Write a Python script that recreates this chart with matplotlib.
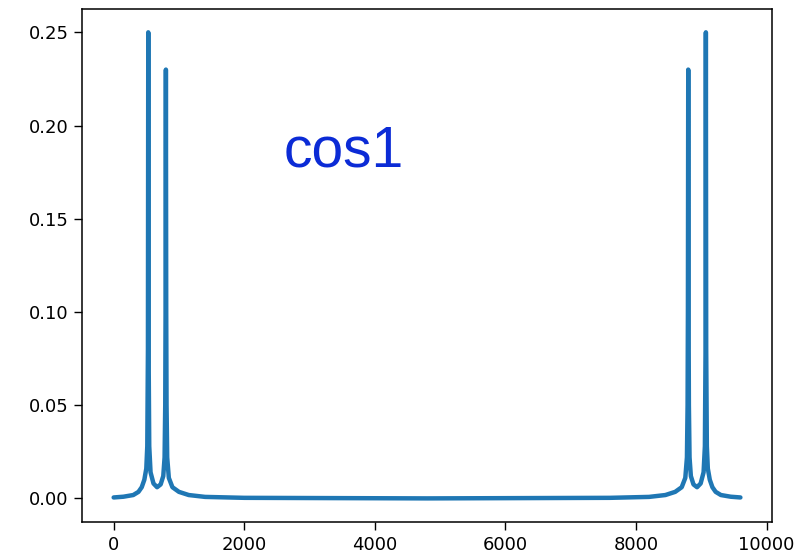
import matplotlib
matplotlib.use("Agg")
import matplotlib.pyplot as plt

# FFT magnitude outline (bin index, |X|)
freq_bins = [0, 150, 300, 380, 430, 470, 500, 515, 525, 530, 535, 545, 565,
             610, 665, 720, 760, 780, 790, 795, 800, 805, 810, 820, 845, 900,
             1000, 1150, 1400, 2000, 4800,
             7600, 8200, 8450, 8600, 8700, 8755, 8780, 8790, 8795, 8800,
             8805, 8810, 8820, 8840, 8880, 8935, 8990, 9035, 9055, 9065,
             9070, 9075, 9085, 9100, 9130, 9170, 9220, 9300, 9450, 9599]
magnitude = [0.0005, 0.0009, 0.0018, 0.0035, 0.006, 0.010, 0.016, 0.028,
             0.08, 0.25, 0.08, 0.028, 0.014, 0.008, 0.006, 0.0075, 0.012,
             0.022, 0.05, 0.10, 0.23, 0.10, 0.05, 0.022, 0.011, 0.006, 0.0035,
             0.0018, 0.0008, 0.0003, 0.0,
             0.0003, 0.0008, 0.0018, 0.0035, 0.006, 0.011, 0.022, 0.05, 0.10,
             0.23, 0.10, 0.05, 0.022, 0.012, 0.0075, 0.006, 0.008, 0.014,
             0.028, 0.08, 0.25, 0.08, 0.028, 0.016, 0.010, 0.006, 0.0035,
             0.0018, 0.0009, 0.0005]

label_text = "cos1"
xticks = [0, 2000, 4000, 6000, 8000, 10000]
yticks = [0.00, 0.05, 0.10, 0.15, 0.20, 0.25]


def main():
    fig = plt.figure(figsize=(8.11, 5.52), dpi=100)
    ax = fig.add_axes([0.1015, 0.0549, 0.8501, 0.9288])

    ax.plot(freq_bins, magnitude, color="#1f77b4", linewidth=3.2,
            solid_capstyle="round", solid_joinstyle="round")

    ax.text(2600, 0.178, label_text, color="#0b2bd6", fontsize=41,
            family="Liberation Sans", ha="left", va="baseline")

    ax.set_xticks(xticks)
    ax.set_yticks(yticks)
    ax.set_yticklabels([f"{v:.2f}" for v in yticks])
    ax.tick_params(labelsize=13, length=6, width=1, pad=4)
    for sp in ax.spines.values():
        sp.set_linewidth(1.1)

    fig.savefig("out.png", dpi=100)


if __name__ == '__main__':
    main()
